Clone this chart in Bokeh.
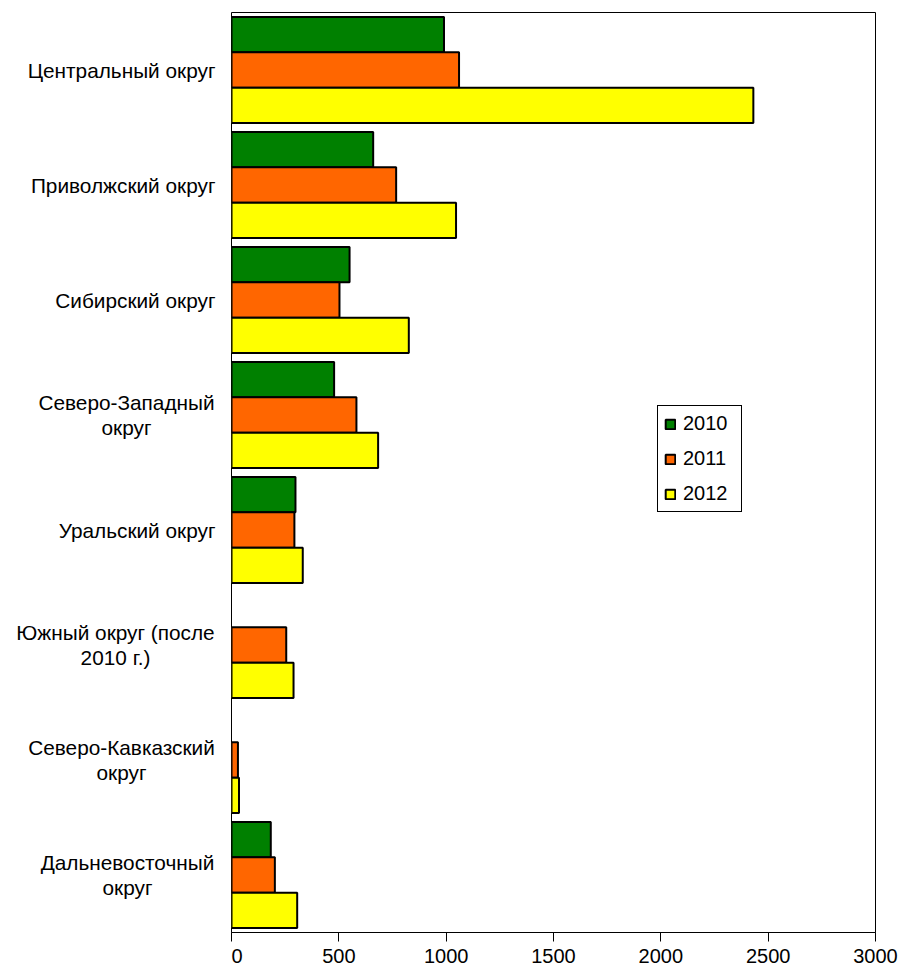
from bokeh.plotting import figure
from bokeh.layouts import row
from bokeh.core.properties import value
from bokeh.models import ColumnDataSource, FactorRange, Range1d, Legend, LegendItem, FixedTicker
from bokeh.transform import dodge
from bokeh.embed import file_html
from bokeh.resources import INLINE

regions = ["Центральный округ", "Приволжский округ", "Сибирский округ",
           "Северо-Западный округ", "Уральский округ",
           "Южный округ (после 2010 г.)", "Северо-Кавказский округ",
           "Дальневосточный округ"]
region_labels = ["Центральный округ", "Приволжский округ", "Сибирский округ",
                 "Северо-Западный\nокруг", "Уральский округ",
                 "Южный округ (после\n2010 г.)", "Северо-Кавказский\nокруг",
                 "Дальневосточный\nокруг"]
nan = float("nan")
v2010 = [990, 660, 550, 478, 298, nan, nan, 183]
v2011 = [1060, 767, 503, 582, 293, 255, 30, 202]
v2012 = [2431, 1046, 826, 683, 332, 289, 35, 306]
years = ["2010", "2011", "2012"]
colors = ["#008000", "#FF6600", "#FFFF00"]
x_ticks = [0, 500, 1000, 1500, 2000, 2500, 3000]

FONT = "Liberation Sans"
FS = "20px"
CAT_FS = "20.8px"
H = 973
TOP = 12
BOTTOM = 41
LEFT_W = 231

src = ColumnDataSource(dict(region=regions, v2010=v2010, v2011=v2011, v2012=v2012))
yr = FactorRange(factors=list(reversed(regions)))

# ---- label panel (left) ----
lp = figure(width=LEFT_W, height=H, y_range=yr, x_range=Range1d(0, LEFT_W),
            output_backend="svg", toolbar_location=None,
            min_border_left=0, min_border_right=0,
            min_border_top=TOP, min_border_bottom=BOTTOM)
lp.axis.visible = False
lp.grid.visible = False
lp.outline_line_color = None
lp.background_fill_color = "white"
lp.border_fill_color = "white"

single = [(r, t) for r, t in zip(regions, region_labels) if "\n" not in t]
multi = [(r, t) for r, t in zip(regions, region_labels) if "\n" in t]
multi_centers = {"Северо-Западный округ": 126, "Южный округ (после 2010 г.)": 115,
                 "Северо-Кавказский округ": 121, "Дальневосточный округ": 127}
s_src = ColumnDataSource(dict(y=[r for r, _ in single], t=[t for _, t in single],
                              x=[215] * len(single)))
m_src = ColumnDataSource(dict(y=[r for r, _ in multi], t=[t for _, t in multi],
                              x=[multi_centers[r] for r, _ in multi]))
lp.text(x="x", y="y", text="t", source=s_src, text_align="right",
        text_baseline="middle", text_font=value(FONT),
        text_font_size=CAT_FS, text_color="black")
lp.text(x="x", y="y", text="t", source=m_src, text_align="center",
        text_baseline="middle", text_font=value(FONT),
        text_font_size=CAT_FS, text_color="black", text_line_height=1.07)

# ---- main chart ----
p = figure(width=670, height=H, y_range=yr, x_range=Range1d(0, 3000),
           output_backend="svg", toolbar_location=None,
           min_border_left=0, min_border_right=26,
           min_border_top=TOP, min_border_bottom=BOTTOM)

p.xgrid.visible = False
p.ygrid.visible = False
p.yaxis.visible = False
p.outline_line_color = "black"
p.outline_line_width = 1
p.outline_line_alpha = 1
p.background_fill_color = "white"
p.border_fill_color = "white"

ax = p.xaxis[0]
ax.ticker = FixedTicker(ticks=x_ticks)
ax.major_tick_in = 0
ax.major_tick_out = 9
ax.major_tick_line_color = "black"
ax.minor_tick_line_color = None
ax.axis_line_color = "black"
ax.major_label_text_font = FONT
ax.major_label_text_font_size = FS
ax.major_label_text_color = "black"
ax.major_label_standoff = 7

bh = 0.307
offsets = [bh, 0.0, -bh]
renderers = []
for y_, col, off in zip(years, colors, offsets):
    r = p.hbar(y=dodge("region", off, range=yr), left=0, right="v" + y_,
               height=bh, source=src, fill_color=col, line_color="black",
               line_width=2)
    renderers.append(r)

legend = Legend(items=[LegendItem(label=y_, renderers=[r]) for y_, r in zip(years, renderers)],
                location=(426, 420))
legend.label_text_font = FONT
legend.label_text_font_size = FS
legend.label_text_color = "black"
legend.glyph_width = 12
legend.glyph_height = 12
legend.label_height = 22
legend.label_width = 52
legend.label_standoff = 7
legend.spacing = 12
legend.padding = 6
legend.margin = 0
legend.border_line_color = "black"
legend.border_line_width = 1.5
legend.border_line_alpha = 1
legend.background_fill_color = "white"
legend.background_fill_alpha = 1
p.add_layout(legend)

layout = row(lp, p, spacing=0)
open("out.html", "w").write(file_html(layout, INLINE))
